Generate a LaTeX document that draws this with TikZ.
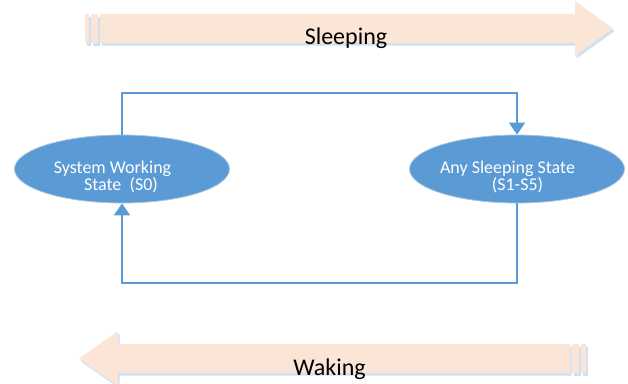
\documentclass[tikz,border=0pt]{standalone}
\usepackage{fontspec}
\setmainfont{Carlito}
\usetikzlibrary{shapes.geometric}
\usetikzlibrary{arrows.meta}
\usetikzlibrary{shadows}
\usetikzlibrary{positioning}

\definecolor{stateblue}{RGB}{91,155,213}
\definecolor{stateedge}{RGB}{172,196,222}
\definecolor{peach}{RGB}{251,229,214}
\definecolor{glow}{RGB}{208,224,243}

\begin{document}
\begin{tikzpicture}[x=1pt,y=-1pt,
  state/.style={ellipse,fill=stateblue,draw=stateedge,line width=0.8pt,
    minimum width=215pt,minimum height=68pt,inner sep=0pt},
  statetext/.style={text=white,align=center,font=\fontsize{18}{17}\selectfont},
  flow/.style={draw=stateblue,line width=2pt,-{Triangle[width=16pt,length=12pt]}},
  bigarrow/.style={fill=peach,drop shadow={fill=glow,opacity=1,
    shadow xshift=1.5pt,shadow yshift=-2.5pt}},
  arrowtext/.style={font=\fontsize{24}{28}\selectfont,anchor=base}]
  \useasboundingbox (0,0) rectangle (628,383);
  % sleeping arrow
  \path[bigarrow] (100,14) -- (575,14) -- (575,1) -- (613,28.5) -- (575,56)
    -- (575,43) -- (100,43) -- cycle;
  \foreach \a/\b in {85/89, 91/98}
    \path[bigarrow] (\a,14) rectangle (\b,43);
  \node[arrowtext] (sleeping) at (346,44) {Sleeping};
  % waking arrow
  \path[bigarrow] (570,344) -- (118,344) -- (118,331) -- (79,358.5) -- (118,386)
    -- (118,373) -- (570,373) -- cycle;
  \foreach \a/\b in {572/579, 581/586}
    \path[bigarrow] (\a,344) rectangle (\b,373);
  \node[arrowtext] (waking) at (329.5,375) {Waking};
  % states
  \node[state] (s0) at (122,169) {};
  \node[state] (sx) at (517,169) {};
  \node[statetext] (s0text) at (112.5,177) {System Working\\\hspace*{17pt}State~~(S0)};
  \node[statetext] (sxtext) at (507.5,177) {Any Sleeping State\\\hspace*{20pt}(S1-S5)};
  \coordinate (upleft) at (122,93);
  \coordinate (downleft) at (122,283);
  \draw[flow] (s0.north) -- (upleft) -| (sx.north);
  \draw[flow] (sx.south) |- (downleft) -- (s0.south);
\end{tikzpicture}
\end{document}
